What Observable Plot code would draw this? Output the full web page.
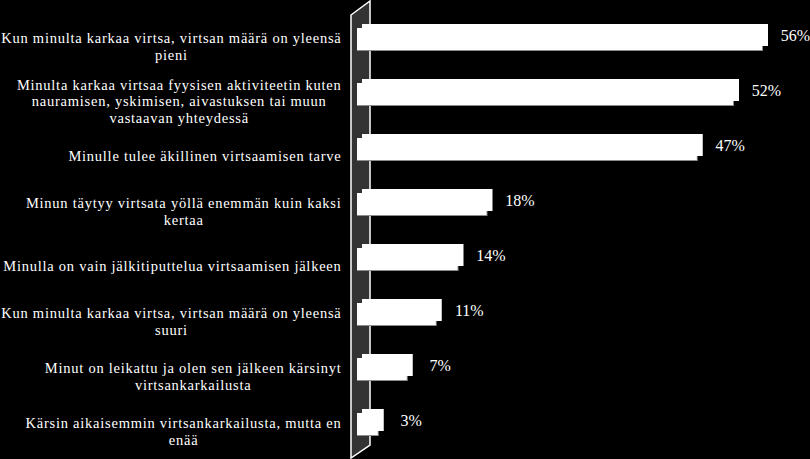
<!DOCTYPE html>
<html><head><meta charset="utf-8">
<script src="https://cdn.jsdelivr.net/npm/d3@7"></script>
<script src="https://cdn.jsdelivr.net/npm/@observablehq/plot@0.6"></script>
<style>html,body{margin:0;padding:0;background:#000;overflow:hidden;}
.cat-label text{letter-spacing:0.75px;}</style>
</head><body><div id="chart"></div>
<script>
const categories = [
  "Kun minulta karkaa virtsa, virtsan määrä on yleensä\npieni",
  "Minulta karkaa virtsaa fyysisen aktiviteetin kuten\nnauramisen, yskimisen, aivastuksen tai muun\nvastaavan yhteydessä",
  "Minulle tulee äkillinen virtsaamisen tarve",
  "Minun täytyy virtsata yöllä enemmän kuin kaksi\nkertaa",
  "Minulla on vain jälkitiputtelua virtsaamisen jälkeen",
  "Kun minulta karkaa virtsa, virtsan määrä on yleensä\nsuuri",
  "Minut on leikattu ja olen sen jälkeen kärsinyt\nvirtsankarkailusta",
  "Kärsin aikaisemmin virtsankarkailusta, mutta en\nenää"
];
const values = [56, 52, 47, 18, 14, 11, 7, 3];
const valueLabels = ["56%", "52%", "47%", "18%", "14%", "11%", "7%", "3%"];

const data = categories.map((c, i) => ({category: c, value: values[i], label: valueLabels[i]}));

const width = 810, height = 459, marginLeft = 362, marginRight = 13;
const xMax = 60;
const k = (width - marginLeft - marginRight) / xMax;
const labelFontSize = 14.5;
const letterSpacing = 0.75;
const labelFamily = "'Liberation Serif'";
const ctx = document.createElement("canvas").getContext("2d");
ctx.font = `${labelFontSize}px ${labelFamily}`;
const labelRight = 341; // right edge of the label block, in px
data.forEach(d => {
  const w = d3.max(d.category.split("\n"), l => ctx.measureText(l).width + l.length * letterSpacing);
  d.labelX = (labelRight - w / 2 - marginLeft) / k;
});

function wall(index, scales, values, dimensions) {
  const x0 = scales.x(0);
  const h = dimensions.height;
  const left = x0 - 11, right = x0 + 8;
  const p = d3.path();
  p.moveTo(left, 15);
  p.lineTo(right, 1);
  p.lineTo(right, h - 14);
  p.lineTo(left, h - 1);
  p.closePath();
  return d3.create("svg:path")
    .attr("d", p.toString())
    .attr("fill", "#333")
    .attr("stroke", "#fff")
    .attr("stroke-width", 1.5)
    .node();
}

const chart = Plot.plot({
  width, height,
  marginLeft, marginRight, marginTop: 0, marginBottom: 4,
  style: {background: "#000", color: "#fff", fontFamily: "'Liberation Serif', serif"},
  x: {domain: [0, xMax], axis: null},
  y: {domain: categories, axis: null, paddingInner: 0.594, paddingOuter: 0.406},
  marks: [
    wall,
    Plot.rectX(data, {x: "value", y: "category", fill: "#8c8c8c", dx: -5, dy: 5}),
    Plot.rectX(data, {x: "value", y: "category", fill: "#fff", dx: -5, dy: 4, insetRight: 1}),
    Plot.rectX(data, {x: "value", y: "category", fill: "#fff"}),
    Plot.text(data, {x: "value", y: "category", text: "label", dx: 27, textAnchor: "middle",
      fill: "#fff", fontSize: 16, fontFamily: "'Liberation Serif', serif"}),
    Plot.text(data, {x: "labelX", y: "category", text: "category", textAnchor: "middle",
      lineHeight: 1.15, dy: 10.5, fill: "#fff", fontSize: labelFontSize, fontFamily: labelFamily,
      className: "cat-label"})
  ]
});
document.getElementById("chart").appendChild(chart);
</script>
</body></html>
